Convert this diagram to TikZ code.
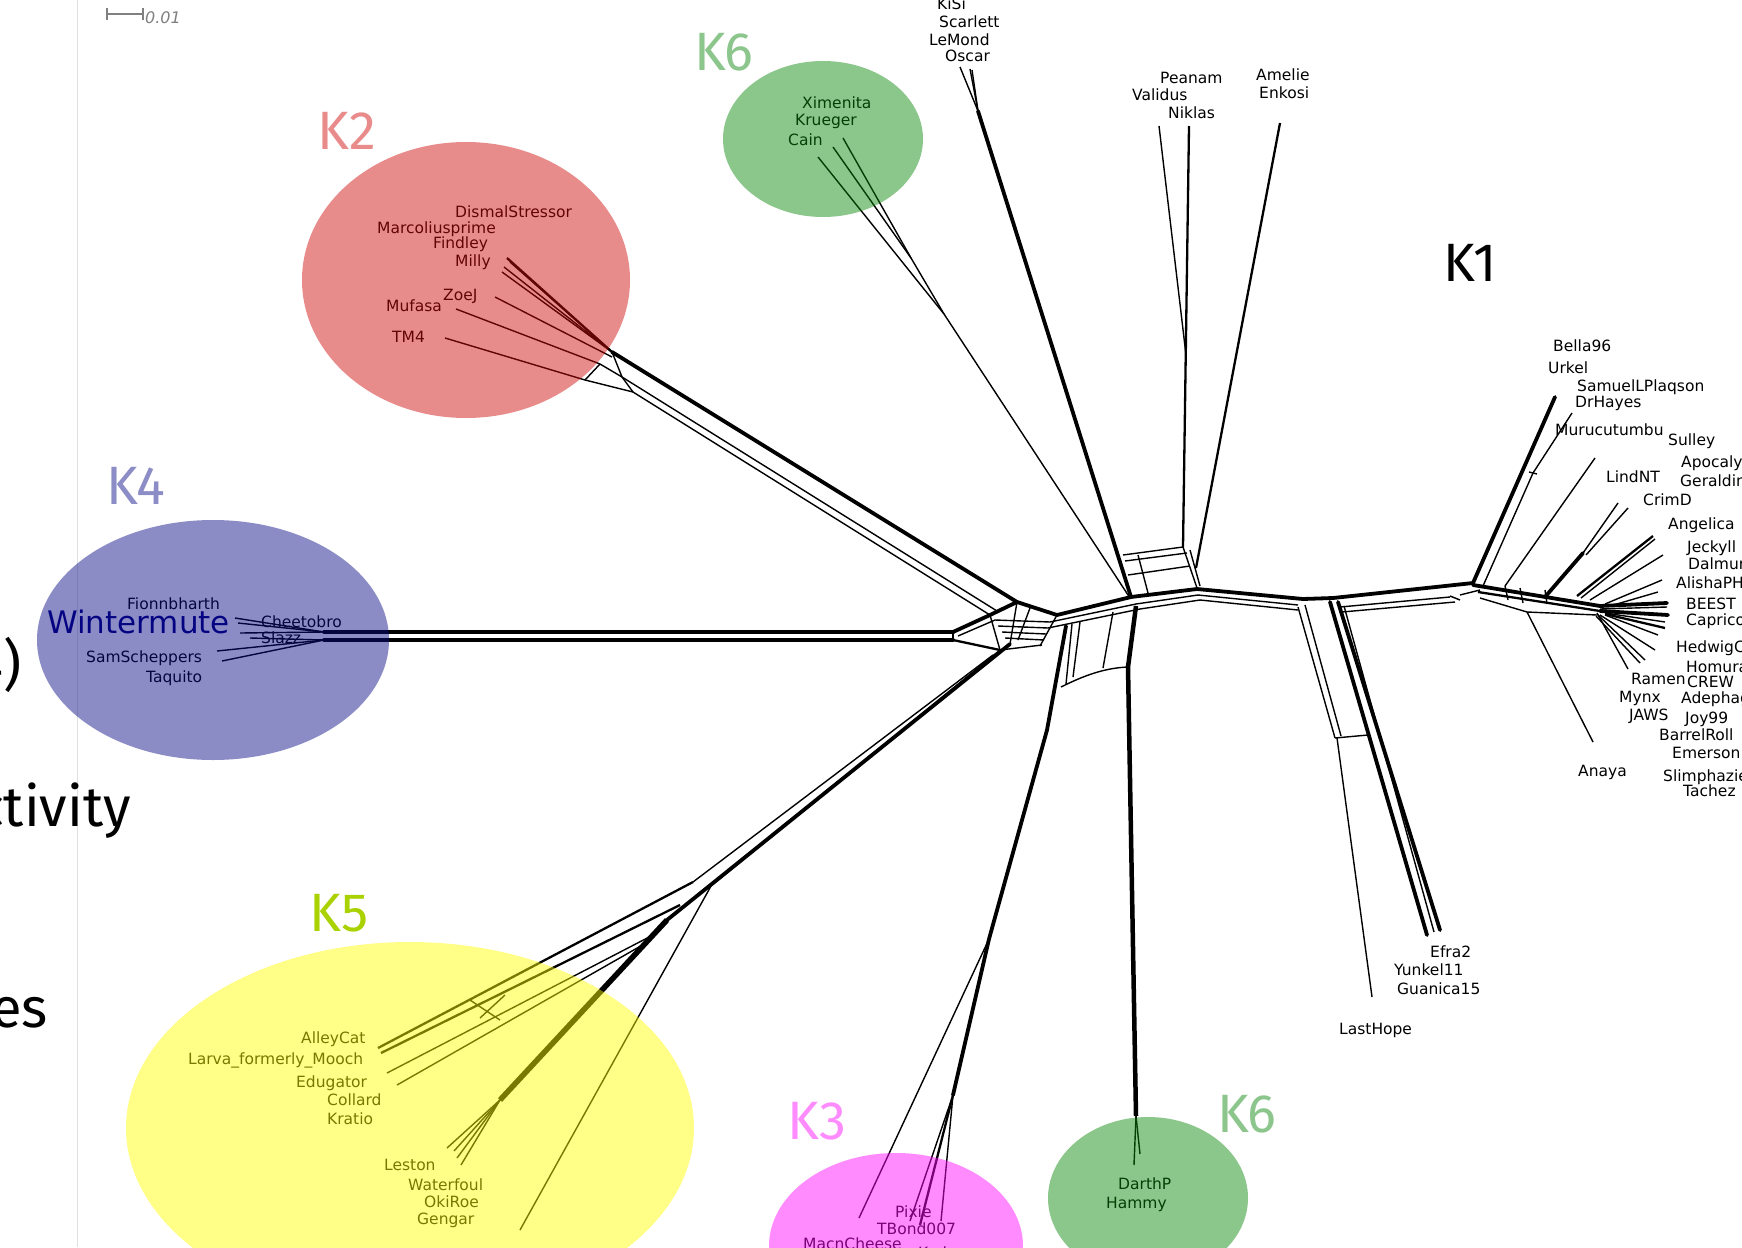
\documentclass[tikz,border=0pt]{standalone}
\usepackage{fontspec}
\setmainfont{DejaVu Sans}
\newfontfamily\klight{Fira Sans}
\usetikzlibrary{calc}
\definecolor{cKtwo}{RGB}{208,10,10}
\definecolor{cKsix}{RGB}{10,134,10}
\definecolor{cKfour}{RGB}{10,10,134}
\definecolor{cKfive}{RGB}{255,255,0}
\definecolor{cKthree}{RGB}{255,10,255}
\definecolor{lKtwo}{RGB}{233,139,139}
\definecolor{lKsix}{RGB}{140,198,140}
\definecolor{lKfour}{RGB}{140,140,198}
\definecolor{lKfive}{RGB}{170,210,0}
\definecolor{lKthree}{RGB}{255,140,255}
\definecolor{navyW}{RGB}{0,0,128}
\begin{document}
\begin{tikzpicture}[x=1pt,y=-1pt,
  thk/.style={line width=3.8pt, line join=round, line cap=round},
  med/.style={line width=2.3pt, line join=round},
  thn/.style={line width=1.4pt, line join=round},
  lab/.style={anchor=base west, inner sep=0pt, font=\fontsize{15.5}{18}\selectfont},
  klab/.style={inner sep=0pt, font=\klight\fontsize{54}{60}\selectfont},
  slide/.style={anchor=base east, inner sep=0pt, font=\klight\fontsize{56}{60}\selectfont},
  blob/.style={fill opacity=0.47, draw=none}]
\useasboundingbox (0,0) rectangle (1742,1247);
\fill[white] (0,0) rectangle (1742,1247);

% ---------- slide remnants ----------
\draw[black!12, line width=1pt] (77,0) -- (77,1247);
\draw[gray, line width=1.3pt] (107,8) -- (107,20) (107,14) -- (143,14) (143,8) -- (143,20);
\node[anchor=west, inner sep=0pt, text=gray, font=\itshape\fontsize{16}{18}\selectfont] (scale) at (145,18) {0.01};

% ---------- central coordinates ----------
\coordinate (A) at (1017,602);
\coordinate (A2) at (997,611);
\coordinate (A3) at (990,615);
\coordinate (B) at (1057,615);
\coordinate (C) at (1010,644);
\coordinate (C3) at (1000,650);
\coordinate (J3) at (1131,597);
\coordinate (J4) at (1197,589);
\coordinate (J5) at (1303,599);
\coordinate (J6) at (1333,598);
\coordinate (J7) at (1473,583);

% ---------- K2 group ----------
\coordinate (k2a) at (612,352);
\coordinate (k2b) at (622,377);
\coordinate (k2c) at (633,392);
\draw[thk] (k2a) -- (A);
\draw[thn] (k2b) -- (A2);
\draw[thn] (k2c) -- (A3);
\draw[thn] (k2a) -- (k2b) -- (k2c);
\draw[med] (507,258) -- (k2a);
\draw[thn] (510,262) -- (k2a);
\draw[thn] (504,267) -- (k2a);
\draw[thn] (502,272) -- (k2a);
\draw[thn] (495,297) -- (612,357);
\draw[thn] (456,309) -- (600,364) -- (k2b);
\draw[thn] (445,338) -- (585,380) -- (k2c);
\draw[thn] (585,380) -- (600,364);

% ---------- K4 group ----------
\coordinate (k4a) at (324,632);
\coordinate (k4b) at (324,640);
\coordinate (E1) at (953,632);
\coordinate (E2) at (953,640);
\draw[thk] (k4a) -- (E1);
\draw[thk] (k4b) -- (E2);
\draw[thn] (235,618) -- (k4a);
\draw[thn] (238,623) -- (k4a);
\draw[thn] (240,633) -- (k4a);
\draw[thn] (250,638) -- (k4b);
\draw[thn] (217,651) -- (k4b);
\draw[thn] (222,661) -- (k4b);

% ---------- central junction ----------
\draw[thk] (E1) -- (A3) -- (A);
\draw[thn] (E1) -- (E2);
\draw[med] (E2) -- (C3);
\draw[thn] (958,636) -- (995,620);
\draw[thn] (A2) -- (A3);
\draw[thn] (A3) -- (C3);
\draw[thn] (A) -- (C);
\draw[thn] (995,620) -- (1050,622);
\draw[thn] (998,626) -- (1048,628);
\draw[thn] (1002,632) -- (1046,634);
\draw[thn] (1005,638) -- (1044,640);
\draw[thn] (1000,650) -- (1042,645);
\draw[thk] (A) -- (B);
\draw[thn] (B) -- (1040,646);
\draw[thn] (1030,608) -- (1018,640);

% ---------- K5 group ----------
\coordinate (k5m) at (667,920);
\coordinate (k5s) at (500,1100);
\draw[thk] (C) -- (k5m);
\draw[line width=5.5pt, line join=round] (k5m) -- (k5s);
\draw[thn] (C3) -- (711,886);
\draw[thn] (993,655) -- (693,882);
\draw[thn] (711,886) -- (520,1230);
\draw[med] (693,882) -- (378,1048);
\draw[med] (680,905) -- (381,1053);
\draw[thn] (653,935) -- (387,1073);
\draw[thn] (646,943) -- (397,1085);
\draw[thn] (470,1000) -- (500,1020) (480,1018) -- (505,995);
\draw[thn] (k5s) -- (447,1148);
\draw[thn] (k5s) -- (454,1151);
\draw[thn] (k5s) -- (457,1158);
\draw[thn] (k5s) -- (461,1165);

% ---------- band ----------
\draw[thk] (B) -- (J3);
\draw[thn] (1050,622) -- (1136,604);
\draw[thn] (1048,628) -- (1140,609);
\draw[thk] (J3) -- (J4);
\draw[thn] (1136,604) -- (1198,595);
\draw[thn] (1140,609) -- (1200,600);
\draw[thk] (J4) -- (J5);
\draw[thn] (1198,595) -- (1298,605);
\draw[thn] (1200,600) -- (1298,610);
\draw[thk] (J5) -- (J6);
\draw[thk] (J6) -- (J7);
\draw[thn] (1340,607) -- (1450,597);
\draw[thn] (1342,612) -- (1455,602);
\draw[thn] (1450,596) -- (1460,600) (1460,595) -- (1480,590);

% ---------- K3 / DarthP cell ----------
\coordinate (k3t) at (1066,626);
\coordinate (k3m) at (1047,730);
\coordinate (k3n) at (989,939);
\coordinate (k3s) at (953,1095);
\draw[thk] (k3t) -- (k3m) -- (k3n) -- (k3s);
\draw[thn] (k3n) -- (859,1218);
\draw[med] (k3s) -- (920,1225);
\draw[thn] (k3s) -- (910,1221);
\draw[thn] (k3s) -- (941,1221);
\coordinate (dpt) at (1136,606);
\coordinate (dpm) at (1128,667);
\coordinate (dps) at (1136,1116);
\draw[line width=4.5pt, line join=round] (dpt) -- (dpm) -- (dps);
\draw[thn] (dps) -- (1134,1165);
\draw[thn] (dps) -- (1140,1154);
\draw[thn] (1061,687) .. controls (1085,675) and (1105,668) .. (dpm);
\draw[thn] (1080,622) -- (1073,677);
\draw[thn] (1113,612) -- (1103,668);
\draw[thn] (1072,624) -- (1066,684);

% ---------- top groups ----------
\coordinate (kisi) at (978,111);
\draw[thk] (kisi) -- (J3);
\draw[thn] (960,67) -- (kisi);
\draw[thn] (970,69) -- (kisi);
\draw[thn] (972,70) -- (kisi);
\coordinate (k6m) at (911,258);
\coordinate (k6n) at (944,314);
\draw[thn] (843,138) -- (k6m);
\draw[thn] (833,147) -- (k6m);
\draw[thn] (k6m) -- (k6n);
\draw[thn] (818,157) -- (k6n);
\draw[thn] (k6n) -- (1130,598);
\draw[med] (1189,126) -- (1183,547);
\draw[thn] (1159,126) -- (1186,355);
\draw[med] (1280,123) -- (1196,568);
% box
\draw[thn] (1123,555) -- (1183,547) -- (1197,588);
\draw[thn] (1125,561) -- (1187,553);
\draw[thn] (1128,575) -- (1190,566);
\draw[thn] (1138,555) -- (1148,593);
\draw[thn] (1190,550) -- (1200,586);

% ---------- Efra2 / LastHope ----------
\draw[thk] (1330,602) -- (1427,935);
\draw[thk] (1338,602) -- (1440,930);
\draw[thn] (1344,606) -- (1434,932);
\draw[thn] (1298,607) -- (1335,738);
\draw[thn] (1305,605) -- (1341,736);
\draw[thn] (1335,738) -- (1368,735);
\draw[thn] (1337,738) -- (1372,997);

% ---------- K1 cluster ----------
\draw[thk] (J7) -- (1555,397);
\draw[thn] (1483,586) -- (1533,473);
\draw[thn] (1529,472) -- (1537,474);
\draw[thn] (1533,473) -- (1572,413);
\draw[thn] (1505,586) -- (1595,458);
\draw[thk] (1545,597) -- (1583,553);
\draw[thn] (1583,553) -- (1618,503);
\draw[thn] (1586,555) -- (1628,508);
\draw[thk] (1473,585) -- (1600,606);
\draw[med] (1478,592) -- (1600,611);
\draw[thn] (1480,598) -- (1527,612) -- (1597,615);
\draw[thn] (1505,586) -- (1508,600) (1545,590) -- (1547,604) (1520,588) -- (1523,603);
\draw[thn] (1527,612) -- (1593,742);
\draw[med] (1577,596) -- (1653,536);
\draw[thn] (1581,598) -- (1655,539);
\draw[thn] (1590,600) -- (1663,555);
\draw[thn] (1605,604) -- (1662,580);
\draw[thn] (1610,606) -- (1658,592);
\draw[thk] (1600,606) -- (1667,603);
\draw[thn] (1600,609) -- (1667,607);
\draw[thk] (1600,611) -- (1668,615);
\draw[thn] (1605,613) -- (1665,622);
\draw[med] (1605,614) -- (1665,628);
\draw[thn] (1605,615) -- (1658,635);
\draw[thn] (1600,615) -- (1655,650);
\draw[thn] (1598,615) -- (1645,660);
\draw[thn] (1596,616) -- (1640,663);
\draw[thn] (1597,613) -- (1628,669);

% ---------- labels ----------
\node[lab] (DismalStressor) at (455,217) {DismalStressor};
\node[lab] (Marcoliusprime) at (377,233) {Marcoliusprime};
\node[lab] (Findley) at (433,248) {Findley};
\node[lab] (Milly) at (455,266) {Milly};
\node[lab] (ZoeJ) at (443,300) {ZoeJ};
\node[lab] (Mufasa) at (386,311) {Mufasa};
\node[lab] (TM4) at (392,342) {TM4};

\node[lab] (Ximenita) at (802,108) {Ximenita};
\node[lab] (Krueger) at (795,125) {Krueger};
\node[lab] (Cain) at (788,145) {Cain};

\node[lab] (KiSi) at (937,10) {KiSi};
\node[lab] (Scarlett) at (939,28) {Scarlett};
\node[lab] (LeMond) at (929,46) {LeMond};
\node[lab] (Oscar) at (945,62) {Oscar};
\node[lab] (Peanam) at (1160,84) {Peanam};
\node[lab] (Validus) at (1132,100) {Validus};
\node[lab] (Niklas) at (1168,118) {Niklas};
\node[lab] (Amelie) at (1256,81) {Amelie};
\node[lab] (Enkosi) at (1259,99) {Enkosi};

\node[lab] (Bella96) at (1553,351) {Bella96};
\node[lab] (Urkel) at (1548,373) {Urkel};
\node[lab] (SamuelLPlaqson) at (1577,391) {SamuelLPlaqson};
\node[lab] (DrHayes) at (1575,407) {DrHayes};
\node[lab] (Murucutumbu) at (1555,435) {Murucutumbu};
\node[lab] (Sulley) at (1668,445) {Sulley};
\node[lab] (Apocaly) at (1681,467) {Apocaly};
\node[lab] (Geraldin) at (1680,486) {Geraldin};
\node[lab] (LindNT) at (1606,482) {LindNT};
\node[lab] (CrimD) at (1643,505) {CrimD};
\node[lab] (Angelica) at (1668,529) {Angelica};
\node[lab] (Jeckyll) at (1687,552) {Jeckyll};
\node[lab] (Dalmur) at (1688,569) {Dalmur};
\node[lab] (AlishaPH) at (1676,588) {AlishaPH};
\node[lab] (BEEST) at (1686,609) {BEEST};
\node[lab] (Caprico) at (1686,625) {Caprico};
\node[lab] (HedwigC) at (1676,652) {HedwigC};
\node[lab] (Homura) at (1686,672) {Homura};
\node[lab] (Ramen) at (1631,684) {Ramen};
\node[lab] (CREW) at (1687,687) {CREW};
\node[lab] (Mynx) at (1619,702) {Mynx};
\node[lab] (Adephag) at (1681,703) {Adephag};
\node[lab] (JAWS) at (1629,720) {JAWS};
\node[lab] (Joy99) at (1685,723) {Joy99};
\node[lab] (BarrelRoll) at (1659,740) {BarrelRoll};
\node[lab] (Emerson) at (1672,758) {Emerson};
\node[lab] (Anaya) at (1578,776) {Anaya};
\node[lab] (Slimphazie) at (1663,781) {Slimphazie};
\node[lab] (Tachez) at (1683,796) {Tachez};

\node[lab] (Efra2) at (1430,957) {Efra2};
\node[lab] (Yunkel11) at (1394,975) {Yunkel11};
\node[lab] (Guanica15) at (1397,994) {Guanica15};
\node[lab] (LastHope) at (1339,1034) {LastHope};

\node[lab] (Fionnbharth) at (127,609) {Fionnbharth};
\node[anchor=base west, inner sep=0pt, text=navyW, font=\fontsize{31}{34}\selectfont] (Wintermute) at (47,633) {Wintermute};
\node[lab] (Cheetobro) at (261,627) {Cheetobro};
\node[lab] (Slazz) at (261,643) {Slazz};
\node[lab] (SamScheppers) at (86,662) {SamScheppers};
\node[lab] (Taquito) at (146,682) {Taquito};

\node[lab] (AlleyCat) at (301,1043) {AlleyCat};
\node[lab] (Larva) at (188,1064) {Larva\_formerly\_Mooch};
\node[lab] (Edugator) at (296,1087) {Edugator};
\node[lab] (Collard) at (327,1105) {Collard};
\node[lab] (Kratio) at (327,1124) {Kratio};
\node[lab] (Leston) at (384,1170) {Leston};
\node[lab] (Waterfoul) at (408,1190) {Waterfoul};
\node[lab] (OkiRoe) at (424,1207) {OkiRoe};
\node[lab] (Gengar) at (417,1224) {Gengar};

\node[lab] (Pixie) at (895,1217) {Pixie};
\node[lab] (TBond007) at (877,1234) {TBond007};
\node[lab] (MacnCheese) at (803,1249) {MacnCheese};
\node[lab] (Kod) at (918,1258) {Kod};

\node[lab] (DarthP) at (1118,1189) {DarthP};
\node[lab] (Hammy) at (1106,1208) {Hammy};

% ---------- cluster ellipses ----------
\fill[blob, cKtwo] (466,280) ellipse [x radius=164, y radius=138];
\fill[blob, cKsix] (823,139) ellipse [x radius=100, y radius=78];
\fill[blob, cKfour] (213,640) ellipse [x radius=176, y radius=120];
\fill[blob, cKfive] (410,1128) ellipse [x radius=284, y radius=186];
\fill[blob, cKthree] (896,1246) ellipse [x radius=127, y radius=93];
\fill[blob, cKsix] (1148,1198) ellipse [x radius=100, y radius=81];

% ---------- cluster labels ----------
\node[klab, text=lKtwo] (K2) at (347,131) {K2};
\node[klab, text=lKsix] (K6a) at (724,52) {K6};
\node[klab, text=lKfour] (K4) at (136,486) {K4};
\node[klab, text=lKfive] (K5) at (339,913) {K5};
\node[klab, text=lKthree] (K3) at (817,1121) {K3};
\node[klab, text=lKsix] (K6b) at (1247,1114) {K6};
\node[klab, text=black] (K1) at (1470,263) {K1};

\node[slide] (s1) at (22,684) {4)};
\node[slide] (s2) at (131,826) {ctivity};
\node[slide] (s3) at (48,1027) {es};
\end{tikzpicture}
\end{document}
